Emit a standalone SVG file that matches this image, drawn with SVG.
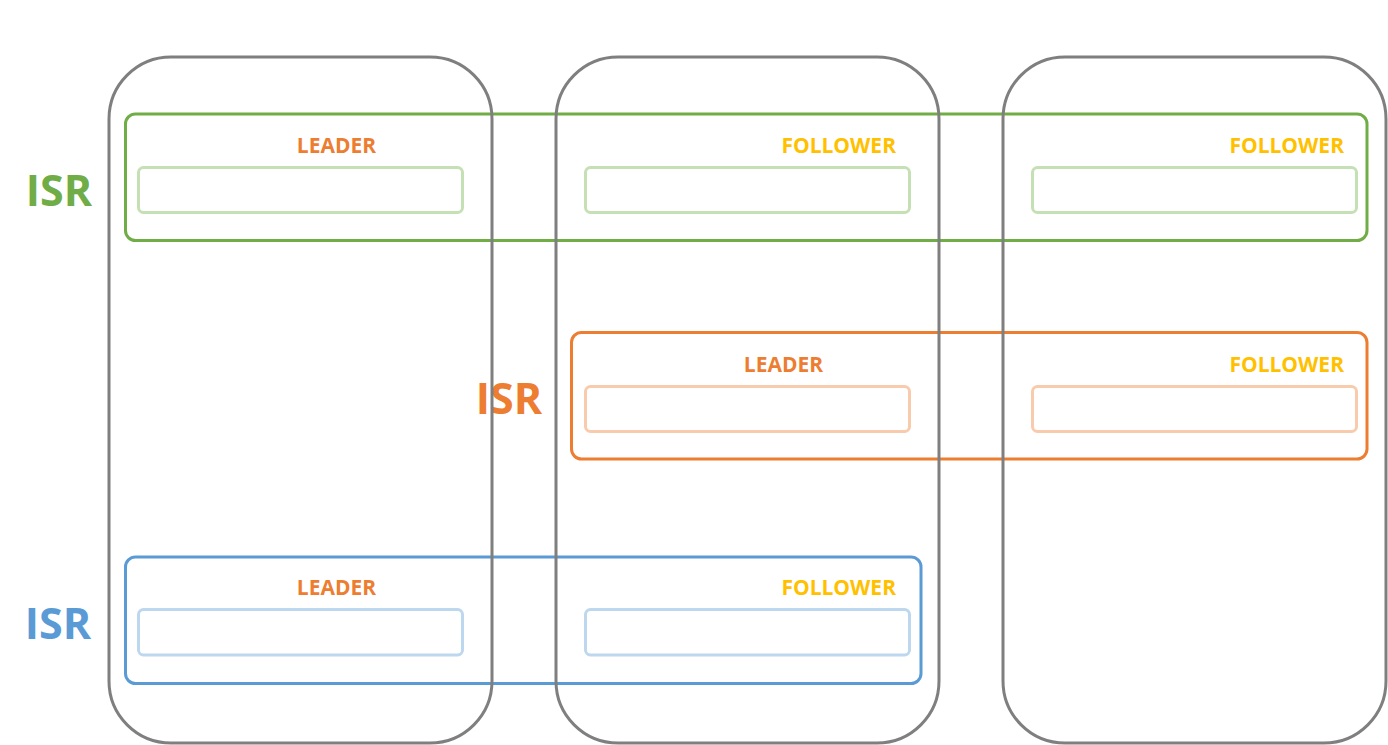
<svg xmlns="http://www.w3.org/2000/svg" width="1388" height="745" viewBox="0 0 1388 745">
<style>
.broker{fill:none;stroke:#7F7F7F;stroke-width:3}
.isr{fill:none;stroke-width:3}
.part{fill:none;stroke-width:3}
.lbl{font-family:"Open Sans","Noto Sans","Liberation Sans",sans-serif;font-weight:bold;font-size:21px}
.isrl{font-family:"Open Sans","Noto Sans","Liberation Sans",sans-serif;font-weight:bold;font-size:43px}
.leader{fill:#ED7D31}
.follower{fill:#FFC000}
</style>
<rect width="1388" height="745" fill="#FFFFFF"/>
<g id="isr-green">
<rect class="isr" x="125.5" y="114" width="1241.5" height="126.5" rx="10" stroke="#70AD47"/>
<rect class="part" x="138.5" y="167.5" width="324" height="45" rx="5" stroke="#C5E0B4"/>
<rect class="part" x="585.5" y="167.5" width="324" height="45" rx="5" stroke="#C5E0B4"/>
<rect class="part" x="1032.5" y="167.5" width="324" height="45" rx="5" stroke="#C5E0B4"/>
<text class="lbl leader" x="336.5" y="153" text-anchor="middle">LEADER</text>
<text class="lbl follower" x="896" y="153" text-anchor="end">FOLLOWER</text>
<text class="lbl follower" x="1344" y="153" text-anchor="end">FOLLOWER</text>
<text class="isrl" x="59" y="206" text-anchor="middle" fill="#70AD47">ISR</text>
</g>
<g id="isr-orange">
<rect class="isr" x="571.5" y="332.5" width="795.5" height="126.5" rx="10" stroke="#ED7D31"/>
<rect class="part" x="585.5" y="386.5" width="324" height="45" rx="5" stroke="#F8CBAD"/>
<rect class="part" x="1032.5" y="386.5" width="324" height="45" rx="5" stroke="#F8CBAD"/>
<text class="lbl leader" x="783.5" y="372" text-anchor="middle">LEADER</text>
<text class="lbl follower" x="1344" y="372" text-anchor="end">FOLLOWER</text>
<text class="isrl" x="509" y="414" text-anchor="middle" fill="#ED7D31">ISR</text>
</g>
<g id="isr-blue">
<rect class="isr" x="125.5" y="557" width="795.5" height="126.5" rx="10" stroke="#5B9BD5"/>
<rect class="part" x="138.5" y="609.5" width="324" height="45.5" rx="5" stroke="#BDD7EE"/>
<rect class="part" x="585.5" y="609.5" width="324" height="45.5" rx="5" stroke="#BDD7EE"/>
<text class="lbl leader" x="336.5" y="595" text-anchor="middle">LEADER</text>
<text class="lbl follower" x="896" y="595" text-anchor="end">FOLLOWER</text>
<text class="isrl" x="58" y="639" text-anchor="middle" fill="#5B9BD5">ISR</text>
</g>
<g id="broker-1"><rect class="broker" x="109" y="57" width="383" height="686" rx="62"/></g>
<g id="broker-2"><rect class="broker" x="556" y="57" width="383" height="686" rx="62"/></g>
<g id="broker-3"><rect class="broker" x="1003" y="57" width="383" height="686" rx="62"/></g>
<g id="connectors"></g>
</svg>
